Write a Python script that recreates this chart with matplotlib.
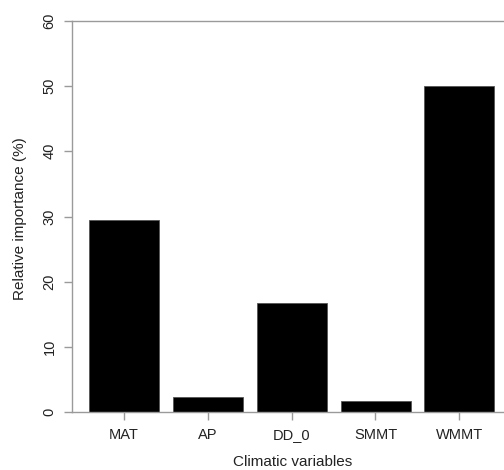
import numpy as np
import matplotlib
matplotlib.use("Agg")
import matplotlib.pyplot as plt

# data
variables = ["MAT", "AP", "DD_0", "SMMT", "WMMT"]
importance = [29.5, 2.4, 16.7, 1.7, 50.0]
yticks = [0, 10, 20, 30, 40, 50, 60]

plt.rcParams['font.family'] = ['Liberation Sans', 'DejaVu Sans']

W, H = 504, 470
fig = plt.figure(figsize=(W / 100, H / 100), dpi=100)

# plot region in pixels (left 72, right = image edge, y from 412 to 21 from top)
left, right = 72, 504
top, bottom = 20.7, 412.3
ax = fig.add_axes([left / W, (H - bottom) / H, (right - left) / W, (bottom - top) / H])

x = np.arange(len(variables))
ax.bar(x, importance, width=1 / 1.2, color="black", edgecolor="#555555", linewidth=0.6)

# centre of first bar at 123.5 px, 84 px between bars
ax.set_xlim((left - 123.5) / 84, (right - 123.5) / 84)
ax.set_ylim(0, 60)

axis_grey = "#9a9a9a"
for side in ["left", "top", "bottom"]:
    ax.spines[side].set_color(axis_grey)
    ax.spines[side].set_linewidth(1.0)
ax.spines["right"].set_visible(False)

ax.set_xticks(x)
ax.set_xticklabels(variables)
ax.set_yticks(yticks)
ax.set_yticklabels([str(v) for v in yticks], rotation=90, va="center")

ax.tick_params(axis="x", length=5.5, width=1.0, color=axis_grey, pad=6,
               labelsize=10.5, labelcolor="#222222")
ax.tick_params(axis="y", length=6, width=1.0, color=axis_grey, pad=5,
               labelsize=10.5, labelcolor="#222222")

fig.text(293 / W, 1 - 462 / H, "Climatic variables", ha="center", va="center",
         fontsize=11, color="#222222")
fig.text(20 / W, 1 - 219 / H, "Relative importance (%)", ha="center", va="center",
         rotation=90, fontsize=11, color="#222222")

fig.savefig("out.png", dpi=100)
